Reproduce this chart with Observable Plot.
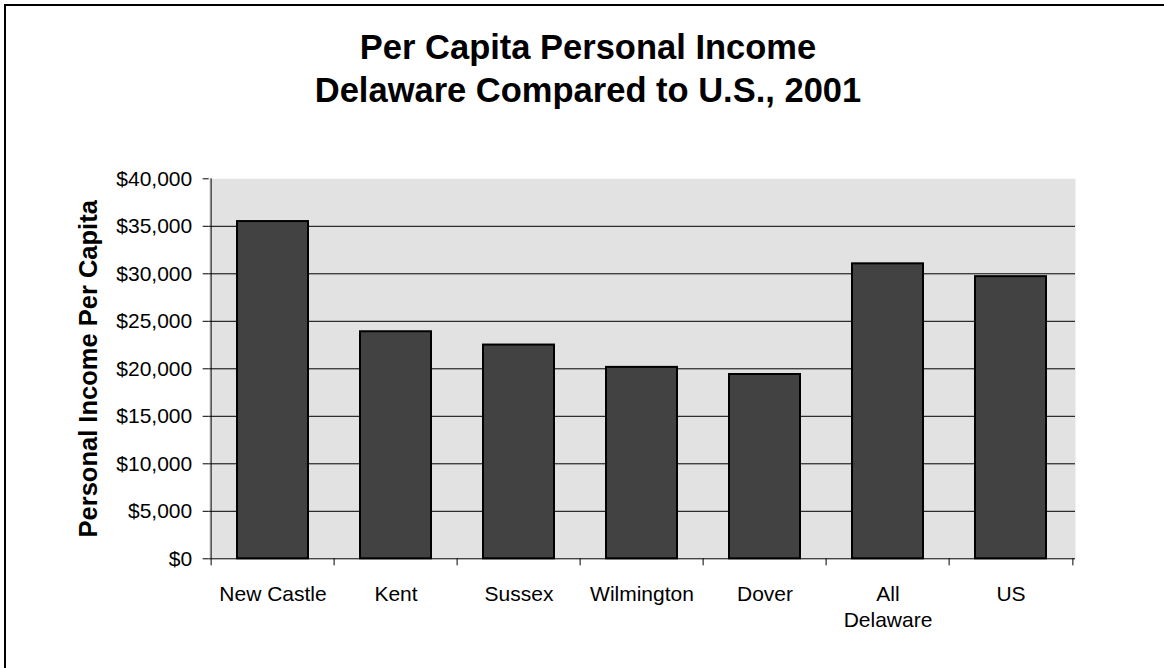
<!DOCTYPE html>
<html>
<head>
<meta charset="utf-8">
<script src="https://cdn.jsdelivr.net/npm/d3@7"></script>
<script src="https://cdn.jsdelivr.net/npm/@observablehq/plot@0.6"></script>
<style>
  body { margin: 0; background: #fff; }
  #wrap { position: relative; width: 1164px; height: 668px; overflow: hidden; background: #fff;
          font-family: "Liberation Sans", Arial, sans-serif; color: #000; }
  #border { position: absolute; left: 4px; top: 4px; width: 1200px; height: 700px;
            border-left: 2px solid #000; border-top: 2px solid #000; }
  #title { position: relative; width: 1176px; height: 130px; box-sizing: border-box; padding-top: 26px;
           text-align: center; font-weight: bold; font-size: 34.5px; line-height: 42.6px; }
  #chart { position: relative; }
</style>
</head>
<body>
<div id="wrap">
  <div id="border"></div>
  <div id="title">Per Capita Personal Income<br>Delaware Compared to U.S., 2001</div>
  <div id="chart"></div>
</div>
<script>
const categories = ["New Castle", "Kent", "Sussex", "Wilmington", "Dover", "All Delaware", "US"];
const incomes = [35500, 23900, 22500, 20150, 19400, 31050, 29700];
const xLabels = ["New Castle", "Kent", "Sussex", "Wilmington", "Dover", "All\nDelaware", "US"];
const yTicks = [0, 5000, 10000, 15000, 20000, 25000, 30000, 35000, 40000];
const yTitle = "Personal Income Per Capita";

const data = categories.map((c, i) => ({name: c, value: incomes[i], label: xLabels[i]}));
const gridValues = yTicks.filter(v => v > 0 && v < 40000);

const width = 1164, height = 538;
const marginLeft = 208.7, marginRight = 89, marginTop = 48.3, marginBottom = 109.7;
const bw = (width - marginLeft - marginRight) / categories.length;

const chart = Plot.plot({
  width, height, marginLeft, marginRight, marginTop, marginBottom,
  style: {fontFamily: "Liberation Sans, Arial, sans-serif", fontSize: "21px", color: "#000", background: "transparent"},
  x: {domain: categories, padding: 0, axis: null},
  y: {domain: [0, 40000]},
  marks: [
    Plot.frame({fill: "#e2e2e2"}),
    Plot.ruleY(gridValues, {stroke: "#000", strokeWidth: 1}),
    Plot.barY(data, {x: "name", y: "value", fill: "#424242", stroke: "#000", strokeWidth: 2, insetLeft: 26, insetRight: 26}),
    Plot.ruleY([0], {stroke: "#000"}),
    Plot.ruleX([categories[0]], {dx: -bw / 2, y1: 0, y2: 40000, stroke: "#000"}),
    Plot.ruleX(categories, {x: d => d, dx: -bw / 2, y1: 0, y2: 0, insetBottom: -7, stroke: "#000"}),
    Plot.ruleX([categories[categories.length - 1]], {x: d => d, dx: bw / 2, y1: 0, y2: 0, insetBottom: -7, stroke: "#000"}),
    Plot.axisY({ticks: yTicks, tickSize: 6, tickPadding: 11, tickFormat: d => "$" + d3.format(",")(d), label: null, fontSize: 21}),
    Plot.text(data, {x: "name", y: () => 0, text: "label", lineAnchor: "top", dy: 22.8, lineHeight: 1.27, fontSize: 21, fill: "#000"}),
    Plot.text([yTitle], {frameAnchor: "left", textAnchor: "middle", rotate: -90, dx: -120.4, text: d => d, fontSize: 25.5, fontWeight: "bold", fill: "#000"})
  ]
});
document.getElementById("chart").appendChild(chart);
</script>
</body>
</html>
